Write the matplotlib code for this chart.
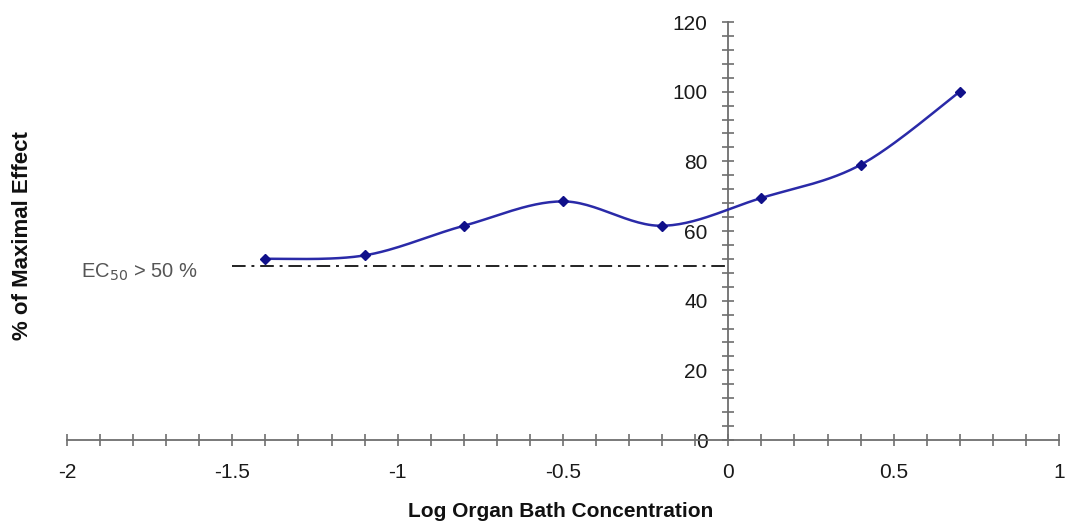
import numpy as np
import matplotlib.pyplot as plt
from matplotlib.ticker import MultipleLocator

plt.rcParams['font.family'] = ['Liberation Sans', 'DejaVu Sans']

# dados
log_conc = [-1.4, -1.1, -0.8, -0.5, -0.2, 0.1, 0.4, 0.7]
pct_effect = [52.0, 53.0, 61.5, 68.5, 61.5, 69.5, 79.0, 100.0]
ec50_level = 50
ec50_x_start = -1.5


def catmull_rom(xs, ys, n=30):
    """Curva suavizada (estilo Excel) passando pelos pontos."""
    p = np.column_stack([xs, ys]).astype(float)
    p = np.vstack([p[0], p, p[-1]])
    out = []
    for i in range(1, len(p) - 2):
        p0, p1, p2, p3 = p[i - 1], p[i], p[i + 1], p[i + 2]
        t = np.linspace(0, 1, n)[:, None]
        seg = 0.5 * ((2 * p1) + (-p0 + p2) * t
                     + (2 * p0 - 5 * p1 + 4 * p2 - p3) * t ** 2
                     + (-p0 + 3 * p1 - 3 * p2 + p3) * t ** 3)
        out.append(seg)
    out = np.vstack(out)
    return out[:, 0], out[:, 1]


fig = plt.figure(figsize=(10.65, 5.24), dpi=100)
ax = fig.add_axes([0.0629, 0.1603, 0.9315, 0.7977])

axis_col = '#6e6e6e'
ax.set_xlim(-2, 1)
ax.set_ylim(0, 120)

ax.spines['left'].set_position(('data', 0))
ax.spines['right'].set_visible(False)
ax.spines['top'].set_visible(False)
for s in ('left', 'bottom'):
    ax.spines[s].set_color(axis_col)
    ax.spines[s].set_linewidth(1.3)

ax.xaxis.set_major_locator(MultipleLocator(0.5))
ax.xaxis.set_minor_locator(MultipleLocator(0.1))
ax.yaxis.set_major_locator(MultipleLocator(20))
ax.yaxis.set_minor_locator(MultipleLocator(4))
ax.tick_params(which='both', direction='inout', color=axis_col, width=1.2)
ax.tick_params(which='major', length=9)
ax.tick_params(which='minor', length=8)
ax.tick_params(axis='x', which='major', pad=12, labelsize=15, labelcolor='#1a1a1a')
ax.tick_params(axis='y', which='major', pad=10.5, labelsize=15, labelcolor='#1a1a1a')
ax.set_xticks([-2, -1.5, -1, -0.5, 0, 0.5, 1])
ax.set_xticklabels(['-2', '-1.5', '-1', '-0.5', '0', '0.5', '1'])

# curva suavizada + marcadores
sx, sy = catmull_rom(log_conc, pct_effect)
ax.plot(sx, sy, color='#2a2aa8', linewidth=1.8, zorder=3)
ax.plot(log_conc, pct_effect, linestyle='none', marker='D', markersize=5.5,
        color='#10108a', zorder=4)

# linha EC50
ax.plot([ec50_x_start, 0], [ec50_level, ec50_level], color='#222222',
        linewidth=1.4, linestyle=(0, (7, 3, 1.5, 3)), zorder=2)
ax.text(-1.605, ec50_level - 2.0, 'EC$_{50}$ > 50 %', ha='right', va='center',
        fontsize=14.5, color='#555555')

fig.text(0.526, 0.023, 'Log Organ Bath Concentration', ha='center',
         va='center', fontsize=15, fontweight='bold', color='#111111')
fig.text(0.021, 0.55, '% of Maximal Effect', rotation=90, ha='center',
         va='center', fontsize=16, fontweight='bold', color='#111111')

fig.savefig('out.png', dpi=100)
